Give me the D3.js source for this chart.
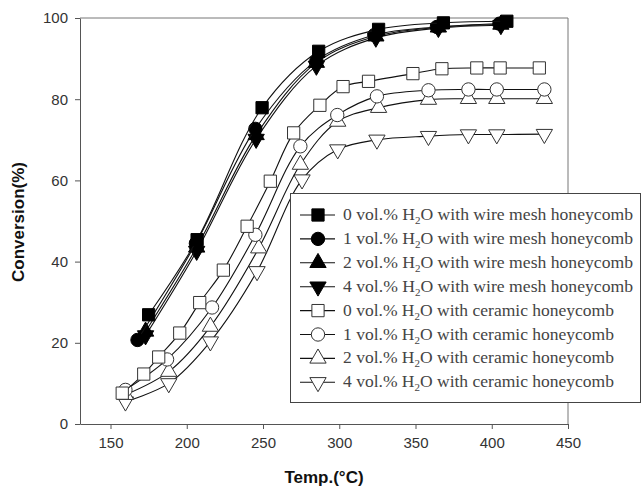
<!DOCTYPE html>
<html lang="en">
  <head>
    <meta charset="UTF-8" />
    <title>Conversion vs temperature</title>
    <style>
      body { margin: 0; background: #fff; }
      .tick text { font-family: "Liberation Sans", Arial, sans-serif; font-size: 15px; fill: #333; }
      .tick line, .domain { stroke: #555; }
      .axis-title { font-family: "Liberation Sans", Arial, sans-serif; font-weight: bold; font-size: 17px; fill: #111; }
      .legend-text { font-family: "Liberation Serif", "DejaVu Serif", serif; font-size: 16px; fill: #444; }
    </style>
  </head>
  <body>
    <div id="chart"></div>
    <script src="https://cdn.jsdelivr.net/npm/d3@7"></script>
    <script>
      // values: temperature (C) and conversion (%)
      var wire0Temp = [175, 206.8, 249.4, 286.5, 325.8, 368.3, 409.9];
      var wire0Conv = [26.9, 45.4, 77.9, 91.8, 97.2, 98.8, 99.2];
      var wire1Temp = [167.7, 206, 245, 285, 323, 364, 405];
      var wire1Conv = [20.7, 44.5, 72.7, 89.5, 95.8, 97.8, 98.6];
      var wire2Temp = [173, 206.5, 245.5, 285, 324, 365, 406];
      var wire2Conv = [22.8, 43.5, 71.2, 89, 95.5, 97.7, 98.4];
      var wire4Temp = [173, 206.5, 245.5, 285, 324, 365, 406];
      var wire4Conv = [21.8, 42.6, 70.2, 88.2, 95.1, 97.5, 98.2];

      var cer0Temp = [157.7, 171.8, 181.6, 195.4, 208.5, 224, 239.6, 254.8, 270.1, 287.3, 302.5, 319.2, 348.3, 367.3, 390.2, 405.5, 431.2];
      var cer0Conv = [7.6, 12.3, 16.5, 22.4, 29.9, 37.9, 48.7, 59.8, 71.7, 78.5, 83.1, 84.4, 86.3, 87.5, 87.7, 87.7, 87.7];
      var cer1Temp = [159.8, 187.1, 216.6, 245, 274.5, 298.7, 324.7, 358.5, 384.7, 403.3, 434.5];
      var cer1Conv = [8.4, 15.9, 28.7, 46.6, 68.4, 76.1, 80.7, 82.2, 82.4, 82.4, 82.4];
      var cer2Temp = [159.8, 188.2, 215.5, 247.2, 274.5, 299, 325.8, 358.5, 384.7, 403.3, 434.5];
      var cer2Conv = [7.2, 12.9, 24.0, 43.3, 63.9, 74.5, 77.9, 79.9, 80.1, 80.1, 80.1];
      var cer4Temp = [159.8, 188.2, 215.5, 246.1, 275.6, 299, 324.7, 358.5, 384.7, 403.3, 434.5];
      var cer4Conv = [5.5, 10.0, 20.3, 37.6, 60.2, 67.6, 70.0, 70.9, 71.3, 71.3, 71.4];

      var xTicks = [150, 200, 250, 300, 350, 400, 450];
      var yTicks = [0, 20, 40, 60, 80, 100];

      var waterLevels = ["0", "1", "2", "4", "0", "1", "2", "4"];
      var supports = ["wire mesh honeycomb", "wire mesh honeycomb", "wire mesh honeycomb", "wire mesh honeycomb",
                      "ceramic honeycomb", "ceramic honeycomb", "ceramic honeycomb", "ceramic honeycomb"];

      function pairs(t, v) {
        return t.map(function(d, i) { return {t: d, v: v[i]}; });
      }

      var series = [
        {data: pairs(wire0Temp, wire0Conv), shape: "square", filled: true},
        {data: pairs(wire1Temp, wire1Conv), shape: "circle", filled: true},
        {data: pairs(wire2Temp, wire2Conv), shape: "up", filled: true},
        {data: pairs(wire4Temp, wire4Conv), shape: "down", filled: true},
        {data: pairs(cer0Temp, cer0Conv), shape: "square", filled: false},
        {data: pairs(cer1Temp, cer1Conv), shape: "circle", filled: false},
        {data: pairs(cer2Temp, cer2Conv), shape: "up", filled: false},
        {data: pairs(cer4Temp, cer4Conv), shape: "down", filled: false}
      ];

      var width = 642, height = 488;
      var svg = d3.select("#chart").append("svg")
                  .attr("width", width).attr("height", height);

      var xScale = d3.scaleLinear().domain([130, 450]).range([80, 568]);
      var yScale = d3.scaleLinear().domain([0, 100]).range([424, 18]);

      var symbolFor = {
        square: d3.symbol().type(d3.symbolSquare).size(150),
        circle: d3.symbol().type(d3.symbolCircle).size(140),
        up: d3.symbol().type(d3.symbolTriangle).size(115),
        down: d3.symbol().type(d3.symbolTriangle).size(115)
      };

      function drawMarker(g, shape, filled, x, y) {
        g.append("path")
         .attr("d", symbolFor[shape]())
         .attr("transform", "translate(" + x + "," + y + ")" + (shape == "down" ? " rotate(180)" : ""))
         .attr("fill", filled ? "#000" : "#fff")
         .attr("stroke", filled ? "#000" : "#333")
         .attr("stroke-width", 1);
      }

      // frame: top and right border
      svg.append("line").attr("x1", 80).attr("x2", 568).attr("y1", 18).attr("y2", 18)
         .attr("stroke", "#777").attr("stroke-width", 1);
      svg.append("line").attr("x1", 568).attr("x2", 568).attr("y1", 18).attr("y2", 424)
         .attr("stroke", "#777").attr("stroke-width", 1);

      svg.append("g")
         .attr("transform", "translate(0,424)")
         .call(d3.axisBottom(xScale).tickValues(xTicks).tickSize(5).tickSizeOuter(0).tickPadding(8));
      svg.append("g")
         .attr("transform", "translate(80,0)")
         .call(d3.axisLeft(yScale).tickValues(yTicks).tickSize(5).tickSizeOuter(0).tickPadding(7));

      var line = d3.line()
                   .x(function(d) { return xScale(d.t); })
                   .y(function(d) { return yScale(d.v); })
                   .curve(d3.curveCatmullRom.alpha(0.5));

      // ceramic first, wire mesh on top
      var order = [7, 6, 5, 4, 3, 2, 1, 0];
      order.forEach(function(k) {
        var s = series[k];
        var g = svg.append("g");
        g.append("path")
         .datum(s.data)
         .attr("fill", "none")
         .attr("stroke", "#111")
         .attr("stroke-width", 1.1)
         .attr("d", line);
        s.data.forEach(function(d) {
          drawMarker(g, s.shape, s.filled, xScale(d.t), yScale(d.v));
        });
      });

      // axis titles
      svg.append("text")
         .attr("class", "axis-title")
         .attr("text-anchor", "middle")
         .attr("transform", "translate(24,222) rotate(-90)")
         .text("Conversion(%)");
      svg.append("text")
         .attr("class", "axis-title")
         .attr("text-anchor", "middle")
         .attr("x", 324).attr("y", 483)
         .text("Temp.(\u00B0C)");

      // legend
      var legend = svg.append("g");
      legend.append("rect")
            .attr("x", 290.5).attr("y", 193.5)
            .attr("width", 350).attr("height", 209)
            .attr("fill", "#fff").attr("stroke", "#444").attr("stroke-width", 1);
      series.forEach(function(s, i) {
        var cy = 215 + i * 23.9;
        legend.append("line")
              .attr("x1", 300).attr("x2", 335).attr("y1", cy).attr("y2", cy)
              .attr("stroke", "#111").attr("stroke-width", 1.1);
        drawMarker(legend, s.shape, s.filled, 318, cy);
        var t = legend.append("text")
                      .attr("class", "legend-text")
                      .attr("x", 343).attr("y", cy + 5)
                      .attr("textLength", i < 4 ? 290 : 271)
                      .attr("lengthAdjust", "spacingAndGlyphs");
        t.append("tspan").text(waterLevels[i] + " vol.% H");
        t.append("tspan").attr("dy", 4).attr("font-size", "10px").text("2");
        t.append("tspan").attr("dy", -4).text("O with " + supports[i]);
      });
    </script>
  </body>
</html>
